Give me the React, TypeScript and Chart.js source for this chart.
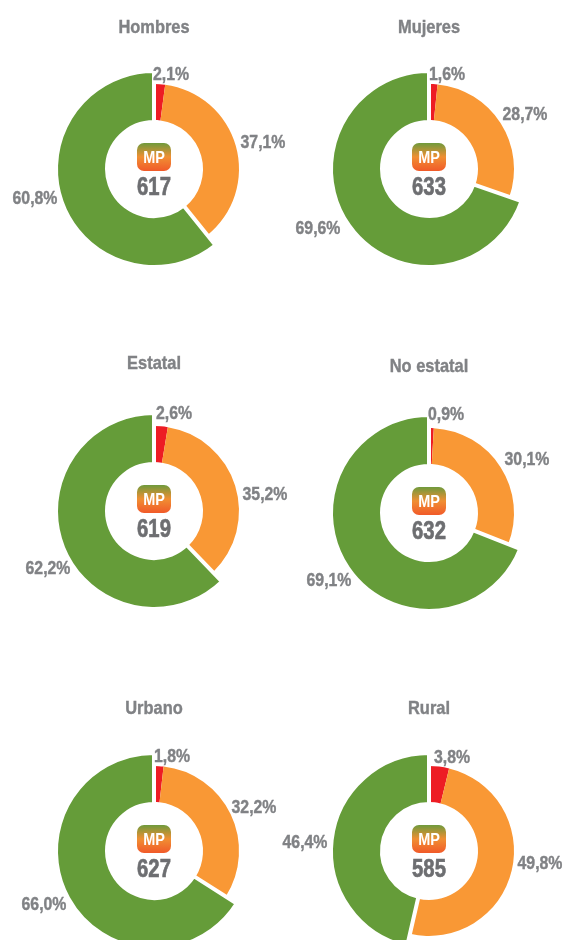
import React, { useEffect, useRef } from "react";
import { Chart, registerables } from "chart.js";

Chart.register(...registerables);

const titles = ["Hombres", "Mujeres", "Estatal", "No estatal", "Urbano", "Rural"];
const categories = ["Rojo", "Naranja", "Verde"];
const redValues = [2.1, 1.6, 2.6, 0.9, 1.8, 3.8];
const orangeValues = [37.1, 28.7, 35.2, 30.1, 32.2, 49.8];
const greenValues = [60.8, 69.6, 62.2, 69.1, 66.0, 46.4];
const scores = ["617", "633", "619", "632", "627", "585"];

// layout only
const centers = [[154, 169], [429, 169], [154, 511], [429, 513], [154, 851], [429, 851]];
const titleOffsets = [[0, -141], [0, -141], [0, -147], [0, -146], [0, -142], [0, -142]];
const labelOffsets = [
  [[17, -94], [109, -26], [-119, 30]],
  [[18, -94], [96, -54], [-111, 60]],
  [[20, -97], [111, -16], [-106, 58]],
  [[17, -98], [98, -53], [-100, 68]],
  [[18, -94], [100, -43], [-110, 54]],
  [[23, -93], [111, 13], [-124, -8]],
];
const colors = ["#ed1c24", "#f99835", "#659c39"];
const SIZE = 340;
const FONT = '"Liberation Sans", sans-serif';
const GRAY = "#808285";

const fmt = (v: number) => v.toFixed(1).replace(".", ",") + "%";

function squeezed(ctx: any, text: string, x: number, y: number, sx: number, heavy = 0) {
  ctx.save();
  ctx.translate(x, y);
  ctx.scale(sx, 1);
  ctx.fillText(text, 0, 0);
  if (heavy > 0) {
    ctx.strokeStyle = ctx.fillStyle;
    ctx.lineWidth = heavy;
    ctx.strokeText(text, 0, 0);
  }
  ctx.restore();
}

function Panel({ index }: { index: number }) {
  const ref = useRef<HTMLCanvasElement>(null);
  useEffect(() => {
    const values = [redValues[index], orangeValues[index], greenValues[index]];
    const overlay = {
      id: "overlay",
      afterDatasetsUpdate(chart: any) {
        const arcs = chart.getDatasetMeta(0).data;
        [arcs[0], arcs[1]].forEach((a: any) => {
          a.outerRadius = 85;
          a.innerRadius = 49;
        });
      },
      afterDatasetsDraw(chart: any) {
        const ctx = chart.ctx;
        const cx = chart.getDatasetMeta(0).data[0].x;
        const cy = chart.getDatasetMeta(0).data[0].y;
        ctx.save();
        ctx.textAlign = "center";
        ctx.textBaseline = "middle";

        ctx.fillStyle = GRAY;
        ctx.font = `bold 19px ${FONT}`;
        squeezed(ctx, titles[index], cx + titleOffsets[index][0], cy + titleOffsets[index][1], 0.865, 0.4);

        ctx.font = `bold 18px ${FONT}`;
        values.forEach((v, i) => {
          squeezed(ctx, fmt(v), cx + labelOffsets[index][i][0], cy + labelOffsets[index][i][1], 0.88, 0.4);
        });

        const grad = ctx.createLinearGradient(0, cy - 26, 0, cy + 2);
        grad.addColorStop(0, "#6f9a3c");
        grad.addColorStop(0.5, "#f08f33");
        grad.addColorStop(1, "#f15a29");
        ctx.fillStyle = grad;
        ctx.beginPath();
        ctx.roundRect(cx - 17, cy - 26, 34, 28, 7);
        ctx.fill();

        ctx.fillStyle = "#ffffff";
        ctx.font = `bold 17px ${FONT}`;
        squeezed(ctx, "MP", cx, cy - 11, 0.85);

        ctx.fillStyle = "#6d6e71";
        ctx.font = `bold 26px ${FONT}`;
        squeezed(ctx, scores[index], cx, cy + 19, 0.78, 0.7);
        ctx.restore();
      },
    };
    const chart = new Chart(ref.current as HTMLCanvasElement, {
      type: "doughnut",
      data: {
        labels: categories,
        datasets: [
          {
            data: values,
            backgroundColor: colors,
            borderColor: "#ffffff",
            borderWidth: [0, 0, 4],
            borderAlign: "center",
          },
        ],
      },
      options: {
        responsive: false,
        animation: false,
        radius: 98,
        cutout: "47.96%",
        layout: { padding: 0 },
        plugins: { legend: { display: false }, tooltip: { enabled: false } },
      },
      plugins: [overlay],
    } as any);
    return () => chart.destroy();
  }, [index]);
  return (
    <canvas
      ref={ref}
      width={SIZE}
      height={SIZE}
      style={{
        position: "absolute",
        left: centers[index][0] - SIZE / 2,
        top: centers[index][1] - SIZE / 2,
        width: SIZE,
        height: SIZE,
      }}
    />
  );
}

export default function App() {
  return (
    <div style={{ position: "fixed", left: 0, top: 0, width: 565, height: 940, overflow: "hidden", background: "#fff" }}>
      {titles.map((_, i) => (
        <Panel key={i} index={i} />
      ))}
    </div>
  );
}
